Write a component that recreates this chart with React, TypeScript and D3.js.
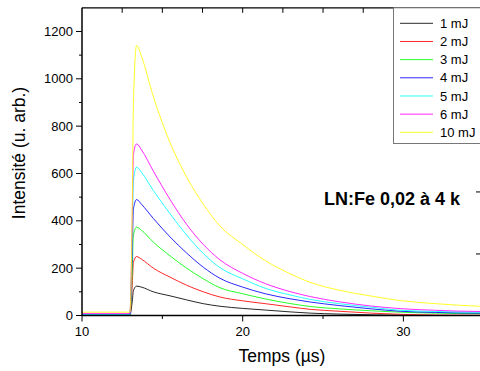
import React from 'react';
import * as d3 from 'd3';

// time axis (µs)
const times = [10, 12.98, 13.12, 13.2, 13.4, 13.7, 14.44, 15.48, 16.51, 17.55, 18.59, 20, 21.4, 23, 24.2, 26, 28, 29.8, 32, 34.8, 36];

const mJ1 = [2, 2, 55, 105, 124, 120, 100, 83, 66, 50, 39, 30, 23, 15, 10, 6, 3, 1, 0, 0, 0];
const mJ2 = [2, 2, 120, 225, 249, 238, 200, 162, 128, 100, 78, 62, 50, 36, 26, 18, 10, 5, 2, 1, 1];
const mJ3 = [2, 2, 180, 340, 373, 360, 310, 252, 200, 155, 117, 92, 70, 50, 38, 28, 20, 14, 10, 8, 8];
const mJ4 = [3, 3, 250, 450, 490, 470, 410, 332, 264, 204, 157, 120, 92, 70, 57, 42, 28, 18, 13, 10, 10];
const mJ5 = [4, 4, 320, 570, 627, 605, 528, 430, 340, 262, 202, 155, 115, 86, 68, 50, 35, 22, 17, 14, 14];
const mJ6 = [8, 8, 380, 680, 725, 700, 610, 490, 385, 300, 235, 178, 135, 100, 80, 58, 40, 29, 22, 17, 17];
const mJ10 = [14, 14, 420, 895, 1141, 1095, 925, 730, 585, 470, 378, 300, 232, 175, 140, 107, 82, 63, 50, 39, 37];

const seriesNames = ['1 mJ', '2 mJ', '3 mJ', '4 mJ', '5 mJ', '6 mJ', '10 mJ'];
const seriesValues = [mJ1, mJ2, mJ3, mJ4, mJ5, mJ6, mJ10];
const seriesColors = ['#000000', '#ff0000', '#00ff00', '#0000ff', '#00ffff', '#ff00ff', '#ffff00'];

const yMajorTicks = [0, 200, 400, 600, 800, 1000, 1200];
const yMinorTicks = [100, 300, 500, 700, 900, 1100];
const xMajorTicks = [10, 20, 30];
const xMinorTicks = [15, 25];
const xTopTicks = [12.5, 15, 17.5, 20, 22.5, 25, 27.5, 30, 32.5];
const rightTicks = [260, 522];

const title = 'LN:Fe 0,02 à 4 k';
const xLabel = 'Temps (µs)';
const yLabel = 'Intensité (u. arb.)';

const W = 480;
const H = 371;
const L = 82;
const R = 481;
const T = 7.8;
const B = 315.5;

const FONT = "'Liberation Sans', Arial, Helvetica, sans-serif";

export default function App() {
  const x = d3.scaleLinear().domain([10, 34.83]).range([L, R]);
  const y = d3.scaleLinear().domain([0, 1300]).range([B, T]);
  const line = d3
    .line<number>()
    .x((_, i) => x(times[i]))
    .y((d) => y(d))
    .curve(d3.curveMonotoneX);

  return (
    <div style={{ position: 'absolute', left: 0, top: 0 }}>
      <svg width={W} height={H} style={{ display: 'block', background: '#fff' }} fontFamily={FONT}>
        <defs>
          <clipPath id="plot">
            <rect x={L} y={T} width={R - L} height={B - T + 1} />
          </clipPath>
        </defs>
        <rect x={0} y={0} width={W} height={H} fill="#fff" />

        {/* data */}
        <g clipPath="url(#plot)">
          {seriesValues.map((vals, i) => (
            <path key={i} d={line(vals) || ''} fill="none" stroke={seriesColors[i]} strokeWidth={0.85} strokeLinejoin="round" />
          ))}
        </g>

        {/* axes */}
        <line x1={L} x2={L} y1={T} y2={B} stroke="#000" strokeWidth={1.5} />
        <line x1={L} x2={R} y1={B} y2={B} stroke="#000" strokeWidth={1.5} />
        <line x1={L} x2={R} y1={T} y2={T} stroke="#000" strokeWidth={1.2} />
        <line x1={R} x2={R} y1={T} y2={B} stroke="#000" strokeWidth={1.2} />

        {yMajorTicks.map((v) => (
          <g key={'ym' + v}>
            <line x1={L - 6} x2={L} y1={y(v)} y2={y(v)} stroke="#000" strokeWidth={1} />
            <text x={L - 9} y={y(v) + 4.5} fontSize={13} textAnchor="end" fill="#000">
              {v}
            </text>
          </g>
        ))}
        {yMinorTicks.map((v) => (
          <line key={'yn' + v} x1={L - 3} x2={L} y1={y(v)} y2={y(v)} stroke="#000" strokeWidth={1} />
        ))}
        {xMajorTicks.map((v) => (
          <g key={'xm' + v}>
            <line x1={x(v)} x2={x(v)} y1={B} y2={B + 6} stroke="#000" strokeWidth={1} />
            <text x={x(v)} y={B + 20} fontSize={13} textAnchor="middle" fill="#000">
              {v}
            </text>
          </g>
        ))}
        {xMinorTicks.map((v) => (
          <line key={'xn' + v} x1={x(v)} x2={x(v)} y1={B} y2={B + 3.5} stroke="#000" strokeWidth={1} />
        ))}
        {xTopTicks.map((v) => (
          <line key={'xt' + v} x1={x(v)} x2={x(v)} y1={T} y2={T + 5} stroke="#000" strokeWidth={1} />
        ))}
        {rightTicks.map((v) => (
          <line key={'rt' + v} x1={R - 5} x2={R} y1={y(v)} y2={y(v)} stroke="#000" strokeWidth={1} />
        ))}

        {/* axis labels */}
        <text x={282} y={362} fontSize={17.5} textAnchor="middle" fill="#000">
          {xLabel}
        </text>
        <text transform={`translate(25,153) rotate(-90)`} fontSize={17.5} textAnchor="middle" fill="#000">
          {yLabel}
        </text>

        {/* title */}
        <text x={324} y={205} fontSize={18} fontWeight="bold" fill="#000">
          {title}
        </text>

        {/* legend */}
        <rect x={393.5} y={T} width={100} height={143.5 - T} fill="#fff" stroke="#777" strokeWidth={1} />
        {seriesNames.map((name, i) => {
          const cy = 23.3 + i * 18.17;
          return (
            <g key={name}>
              <line x1={400} x2={433} y1={cy} y2={cy} stroke={seriesColors[i]} strokeWidth={0.85} />
              <text x={440} y={cy + 4.6} fontSize={13} fill="#000">
                {name}
              </text>
            </g>
          );
        })}
      </svg>
    </div>
  );
}
